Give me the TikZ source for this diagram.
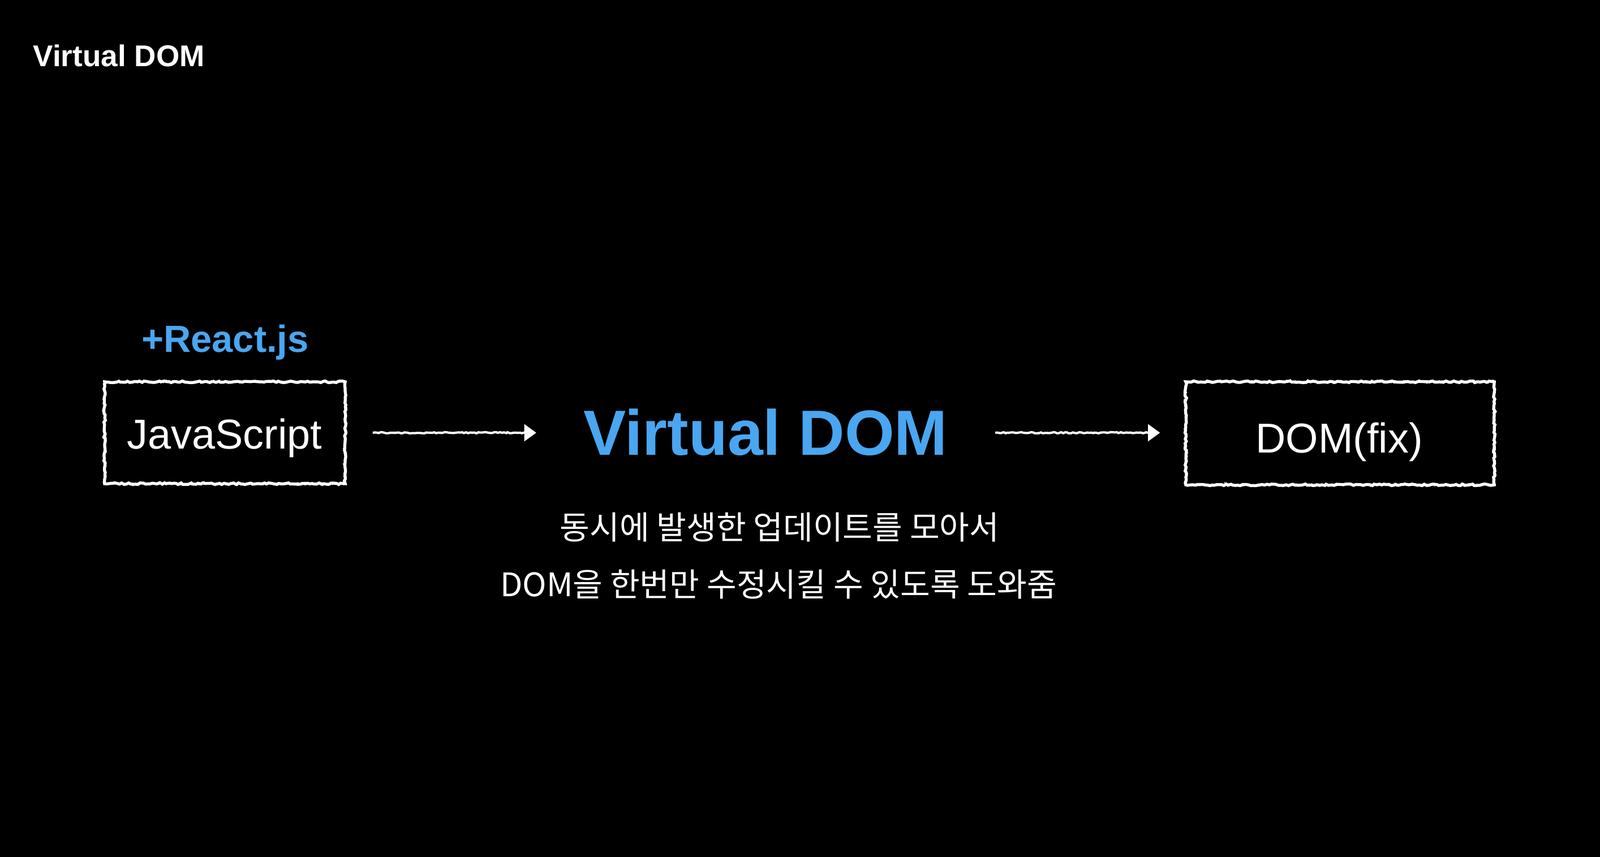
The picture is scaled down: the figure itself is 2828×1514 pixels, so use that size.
\documentclass[tikz,border=0pt]{standalone}
\usepackage{fontspec}
\setmainfont{Liberation Sans}
\newfontfamily\kr{Noto Sans CJK KR}
\usetikzlibrary{decorations.pathmorphing,arrows.meta,calc}
\definecolor{reactblue}{RGB}{74,166,240}
\begin{document}
\begin{tikzpicture}[x=0.01cm,y=-0.01cm,
  chalkbox/.style={draw=white, line width=1.5pt, decorate,
    decoration={random steps, segment length=1.2pt, amplitude=0.4pt},
    postaction={draw=white, line width=0.6pt, decorate,
      decoration={random steps, segment length=0.8pt, amplitude=0.7pt}},
    inner sep=0pt},
  chalkline/.style={draw=white, line width=1.15pt, decorate,
    decoration={random steps, segment length=1pt, amplitude=0.3pt}},
  chalktip/.style={draw=white, line width=0.9pt, -{Triangle[length=6pt,width=8.5pt]}},
  txt/.style={text=white, inner sep=0pt, anchor=base},
  titlefont/.style={font=\bfseries\fontsize{15.1pt}{18pt}\selectfont},
  boxfont/.style={font=\fontsize{21pt}{25pt}\selectfont},
  bluefont/.style={font=\bfseries\fontsize{32.1pt}{38pt}\selectfont},
  reactfont/.style={font=\bfseries\fontsize{19pt}{22pt}\selectfont},
  korfont/.style={font=\kr\fontsize{16.3pt}{19pt}\selectfont}]
\useasboundingbox (0,0) rectangle (2828,1514);
\fill[black] (-20,-20) rectangle (2848,1534);

\node[txt, titlefont, anchor=base west] (title) at (58,117) {Virtual DOM};

\node[chalkbox, minimum width=4.25cm, minimum height=1.8cm] (jsbox) at (397.5,765) {};
\node[txt, boxfont] (js) at (397,793) {JavaScript};
\node[txt, reactfont, text=reactblue] (react) at (398,622) {+React.js};

\node[txt, bluefont, text=reactblue] (vdom) at (1353,804) {Virtual DOM};

\node[chalkbox, minimum width=5.45cm, minimum height=1.82cm] (dombox) at (2368.5,766) {};
\node[txt, boxfont] (dom) at (2367,800) {DOM(fix)};

\node[txt, korfont, anchor=center] (k1) at (1378,932) {동시에 발생한 업데이트를 모아서};
\node[txt, korfont, anchor=center] (k2) at (1376,1033) {DOM을 한번만 수정시킬 수 있도록 도와줌};

\coordinate (a1s) at ($(jsbox.east)+(46,0)$);
\coordinate (a1e) at ($(jsbox.east)+(335,0)$);
\coordinate (a2s) at ($(dombox.west |- jsbox.east)+(-334,0)$);
\coordinate (a2e) at ($(dombox.west |- jsbox.east)+(-43,0)$);

\draw[chalkline] (a1s) -- ($(a1e)+(-14,0)$);
\draw[chalktip] ($(a1e)+(-20,0)$) -- (a1e);
\draw[chalkline] (a2s) -- ($(a2e)+(-14,0)$);
\draw[chalktip] ($(a2e)+(-20,0)$) -- (a2e);
\end{tikzpicture}
\end{document}
